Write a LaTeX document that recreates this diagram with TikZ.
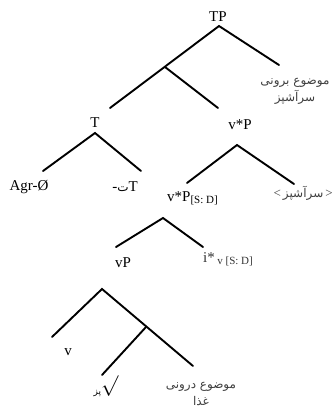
\documentclass[tikz,border=0pt]{standalone}
\usepackage{fontspec}
\setmainfont{Liberation Serif}
\newfontfamily\fa[Script=Arabic]{DejaVu Sans}
\TeXXeTstate=1
\tikzset{
  branch/.style={line width=1.9pt, line cap=round},
  lbl/.style={inner sep=0pt, font=\fontsize{15}{17}\selectfont},
  falbl/.style={inner sep=0pt, align=center, text=black!75, font=\fa\fontsize{12}{17}\selectfont}
}
\newcommand{\lowsub}[1]{\raisebox{-2pt}{\fontsize{11}{12}\selectfont #1}}
\begin{document}
\begin{tikzpicture}[x=1pt, y=-1pt]
			%%%%% START %%%%%
			\useasboundingbox (0, 0) rectangle (334, 407);
			
			% TP
			\node[lbl] (tp) at (218, 17) {TP};
			\coordinate (tpTop) at (219, 26);
			\coordinate (tpLeft) at (110, 108);
			\coordinate (tpRight) at (279, 65);
			\coordinate (tbar) at (165, 67);
			\coordinate (tbarRight) at (218, 108);
			\draw[branch] (tpLeft) -- (tpTop) -- (tpRight);
			\draw[branch] (tbar) -- (tbarRight);
			\node[falbl] (extArg) at (295, 91) {\beginR موضوع برونی\endR\\\beginR سرآشپز\endR};
			
			% T
			\node[lbl] (t) at (95, 123) {T};
			\coordinate (tTop) at (95, 133);
			\coordinate (tLeft) at (43, 171);
			\coordinate (tRight) at (141, 171);
			\draw[branch] (tLeft) -- (tTop) -- (tRight);
			\node[lbl] (agr) at (29, 187) {Agr-Ø};
			\node[lbl] (tense) at (125, 187) {-{\fa\fontsize{12}{12}\selectfont ت}T};
			
			% v*P
			\node[lbl] (vsp) at (240, 125) {v*P};
			\coordinate (vspTop) at (237, 145);
			\coordinate (vspLeft) at (187, 183);
			\coordinate (vspRight) at (294, 184);
			\draw[branch] (vspLeft) -- (vspTop) -- (vspRight);
			\node[lbl, anchor=west] (vspSD) at (167, 198) {v*P\lowsub{[S: D]}};
			\node[lbl, anchor=east, text=black!75] (trace) at (333, 193) {\fontsize{13}{14}\selectfont <\,{\fa\fontsize{12}{14}\selectfont\beginR سرآشپز\endR}\,>};
			
			% v*P[S: D]
			\coordinate (vsdTop) at (163, 218);
			\coordinate (vsdLeft) at (116, 247);
			\coordinate (vsdRight) at (203, 247);
			\draw[branch] (vsdLeft) -- (vsdTop) -- (vsdRight);
			\node[lbl] (vp) at (123, 263) {vP};
			\node[lbl, anchor=west, text=black!80] (istar) at (203, 259) {i*\,\lowsub{v [S: D]}};
			
			% vP
			\coordinate (vpTop) at (102, 289);
			\coordinate (vpLeft) at (52, 337);
			\coordinate (vpRight) at (193, 366);
			\coordinate (vbar) at (146, 327);
			\coordinate (vbarLeft) at (102, 375);
			\draw[branch] (vpLeft) -- (vpTop) -- (vpRight);
			\draw[branch] (vbar) -- (vbarLeft);
			\node[lbl] (v) at (68, 352) {v};
			\node[lbl] (root) at (106, 386) {\raisebox{-3pt}{\fa\fontsize{9}{10}\selectfont\beginR پز\endR}{\fontsize{20}{20}\selectfont$\surd$}};
			\node[falbl] (intArg) at (201, 394) {\beginR موضوع درونی\endR\\\beginR غذا\endR};
			%%%%% END %%%%%
		\end{tikzpicture}
\end{document}
